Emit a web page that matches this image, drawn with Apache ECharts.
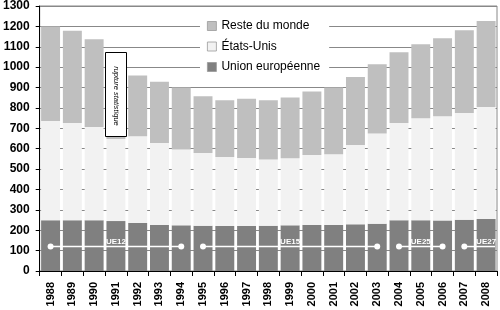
<!DOCTYPE html>
<html>
<head>
<meta charset="utf-8">
<script src="https://cdn.jsdelivr.net/npm/echarts@6/dist/echarts.min.js"></script>
<style>
html,body{margin:0;padding:0;background:#fff;}
#chart{width:500px;height:310px;}
</style>
</head>
<body>
<div id="chart"></div>
<script>
// Categories
const years = ['1988','1989','1990','1991','1992','1993','1994','1995','1996','1997','1998','1999','2000','2001','2002','2003','2004','2005','2006','2007','2008'];
// Segment values (stacked)
const euValues   = [249,249,249,245,236,226,224,222,221,221,222,224,226,226,229,232,249,249,248,252,255];
const usValues   = [487,477,458,403,425,402,372,357,338,333,325,329,343,347,389,442,477,500,511,523,550];
const restValues = [464,452,430,402,298,301,304,278,279,291,291,298,311,327,334,340,347,363,383,406,422];
// Y axis ticks
const yMin = 0, yMax = 1300, yStep = 100;
// EU enlargement periods
const eraLabels  = ['UE12','UE15','UE25','UE27'];
const eraStart   = [0, 7, 16, 19];
const eraEnd     = [6, 15, 18, 20];
const eraLabelAt = [3, 11, 17, 20];
const eraOpenEnd = [false, false, false, true];
const eraLevel   = 120;
// Statistical break annotation
const breakLabel = 'rupture statistique';
const breakIndex = 3;
const breakTop = 1075, breakBottom = 662;

const FONT = 'Liberation Sans';
const chart = echarts.init(document.getElementById('chart'), null, {renderer: 'canvas'});

const eraData = eraLabels.map((l, i) => [eraStart[i], eraEnd[i], eraLabelAt[i], eraLevel]);

const option = {
  animation: false,
  backgroundColor: '#fff',
  grid: {left: 39, right: 3, top: 6, bottom: 39, show: true, borderColor: '#888', borderWidth: 1, backgroundColor: 'transparent'},
  legend: {
    orient: 'vertical', left: 200, top: 12,
    padding: [7, 9, 6, 7],
    backgroundColor: '#fff',
    icon: 'rect',
    itemWidth: 9, itemHeight: 9, itemGap: 6.5,
    data: ['Reste du monde', 'États-Unis', 'Union européenne'],
    textStyle: {fontFamily: FONT, fontSize: 12, color: '#000', lineHeight: 14},
    itemStyle: {borderColor: '#999', borderWidth: 0.8}
  },
  xAxis: {
    type: 'category', data: years,
    axisLine: {show: true, lineStyle: {color: '#000', width: 1}},
    axisTick: {show: true, length: 5, lineStyle: {color: '#000'}},
    axisLabel: {rotate: 90, margin: 11, fontFamily: FONT, fontSize: 11, fontWeight: 'bold', color: '#000'},
    splitLine: {show: false}
  },
  yAxis: {
    type: 'value', min: yMin, max: yMax, interval: yStep,
    axisLine: {show: true, lineStyle: {color: '#000', width: 1}},
    axisTick: {show: true, length: 4, lineStyle: {color: '#000'}},
    axisLabel: {margin: 10, fontFamily: FONT, fontSize: 12, fontWeight: 'bold', color: '#000', formatter: function (v) { return String(v); }},
    splitLine: {show: true, lineStyle: {color: '#888', width: 1}}
  },
  series: [
    {name: 'Union européenne', type: 'bar', stack: 'total', data: euValues, barCategoryGap: '13%',
     itemStyle: {color: '#808080'}},
    {name: 'États-Unis', type: 'bar', stack: 'total', data: usValues, barCategoryGap: '13%',
     itemStyle: {color: '#f2f2f2'}},
    {name: 'Reste du monde', type: 'bar', stack: 'total', data: restValues, barCategoryGap: '13%',
     itemStyle: {color: '#bfbfbf'}},
    {
      name: 'eras', type: 'custom', z: 10, clip: false,
      data: eraData,
      encode: {x: [0, 1, 2], y: 3},
      renderItem: function (params, api) {
        const y = api.value(3);
        const p1 = api.coord([api.value(0), y]);
        const p2 = api.coord([api.value(1), y]);
        const pl = api.coord([api.value(2), y]);
        const open = eraOpenEnd[params.dataIndex];
        let x2 = p2[0];
        if (open) x2 = params.coordSys.x + params.coordSys.width - 2;
        const children = [
          {type: 'line', shape: {x1: p1[0], y1: p1[1], x2: x2, y2: p1[1]}, style: {stroke: '#fff', lineWidth: 1.5}},
          {type: 'circle', shape: {cx: p1[0], cy: p1[1], r: 3}, style: {fill: '#fff'}},
          {type: 'text', x: pl[0], y: p1[1] - 1, style: {text: eraLabels[params.dataIndex], align: 'center', verticalAlign: 'bottom', fill: '#fff', font: 'bold 8px ' + FONT}}
        ];
        if (!open) children.push({type: 'circle', shape: {cx: p2[0], cy: p2[1], r: 3}, style: {fill: '#fff'}});
        return {type: 'group', children: children};
      }
    },
    {
      name: 'break', type: 'custom', z: 11, clip: false,
      data: [[breakIndex, breakTop, breakBottom]],
      encode: {x: 0, y: [1, 2]},
      renderItem: function (params, api) {
        const top = api.coord([api.value(0), api.value(1)]);
        const bot = api.coord([api.value(0), api.value(2)]);
        const bw = api.size([1, 0])[0];
        const x0 = Math.round(top[0] - bw / 2) + 0.5;
        return {type: 'group', children: [
          {type: 'rect', shape: {x: x0, y: Math.round(top[1]) + 0.5, width: Math.round(bw) - 1, height: Math.round(bot[1] - top[1])}, style: {fill: '#fff', stroke: '#000', lineWidth: 1}},
          {type: 'text', x: top[0], y: (top[1] + bot[1]) / 2 + 2, rotation: -Math.PI / 2,
           style: {text: breakLabel, align: 'center', verticalAlign: 'middle', fill: '#000', font: 'italic 7.5px ' + FONT}}
        ]};
      }
    }
  ]
};
chart.setOption(option);
</script>
</body>
</html>
